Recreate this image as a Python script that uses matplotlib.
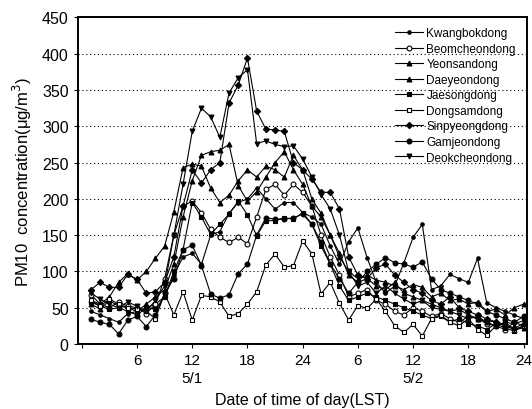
import numpy as np
import matplotlib
matplotlib.use("Agg")
import matplotlib.pyplot as plt

plt.rcParams['font.family'] = ['Liberation Sans', 'DejaVu Sans']

hours = np.arange(1, 49)

kwangbok = [45, 40, 35, 30, 42, 45, 50, 55, 65, 95, 120, 125,
            110, 150, 155, 180, 195, 200, 215, 200, 186, 195, 195, 181,
            175, 165, 135, 110, 141, 160, 119, 85, 70, 80, 112, 147,
            165, 75, 80, 96, 90, 85, 118, 57, 50, 45, 40, 35]
beomcheon = [68, 55, 50, 58, 52, 50, 42, 55, 90, 150, 190, 197,
             181, 158, 147, 140, 147, 138, 175, 213, 220, 205, 220, 209,
             190, 150, 120, 95, 65, 70, 75, 60, 55, 45, 40, 50,
             45, 38, 42, 35, 30, 38, 35, 28, 25, 20, 30, 25]
yeonsan = [60, 55, 65, 85, 97, 88, 100, 118, 135, 182, 243, 248,
           245, 215, 195, 205, 225, 240, 230, 245, 240, 230, 260, 240,
           200, 180, 150, 120, 100, 90, 95, 88, 85, 80, 75, 82,
           78, 65, 70, 60, 62, 55, 58, 45, 48, 40, 50, 55]
daeyeon = [55, 48, 60, 52, 50, 45, 55, 65, 75, 110, 175, 225,
           260, 265, 267, 275, 218, 197, 210, 230, 250, 265, 240, 220,
           190, 175, 150, 125, 95, 85, 90, 80, 75, 85, 70, 65,
           60, 55, 50, 45, 48, 40, 35, 30, 32, 25, 20, 22]
jaesong = [58, 52, 48, 50, 45, 40, 50, 48, 65, 100, 130, 195,
           175, 151, 165, 179, 197, 178, 149, 170, 170, 174, 172, 181,
           165, 135, 110, 80, 60, 65, 70, 65, 60, 55, 50, 45,
           40, 35, 38, 30, 35, 28, 25, 20, 28, 22, 18, 25]
dongsam = [60, 52, 62, 55, 50, 48, 45, 35, 70, 40, 72, 33,
           67, 65, 58, 38, 42, 55, 72, 109, 124, 106, 108, 142,
           124, 69, 85, 56, 33, 53, 49, 62, 45, 25, 16, 27,
           11, 35, 40, 30, 25, 35, 20, 12, 25, 30, 20, 25]
sinpyeong = [75, 85, 78, 78, 96, 89, 70, 72, 85, 120, 190, 240,
             222, 240, 250, 332, 357, 394, 321, 296, 295, 293, 250, 240,
             227, 209, 209, 186, 120, 95, 90, 105, 110, 95, 85, 75,
             70, 60, 55, 65, 50, 45, 40, 35, 30, 25, 22, 28]
gamjeon = [34, 30, 27, 14, 33, 38, 24, 40, 70, 90, 130, 136,
           108, 69, 63, 68, 97, 110, 150, 174, 172, 172, 174, 179,
           165, 140, 110, 90, 70, 85, 100, 110, 119, 112, 110, 106,
           113, 90, 75, 70, 65, 60, 55, 45, 40, 35, 30, 38]
deokcheon = [70, 62, 55, 50, 58, 52, 45, 60, 80, 150, 220, 293,
             325, 313, 285, 346, 367, 378, 276, 280, 275, 272, 273, 255,
             230, 206, 186, 150, 100, 80, 85, 70, 80, 70, 62, 55,
             60, 50, 48, 45, 40, 35, 38, 30, 25, 30, 28, 32]

names = ["Kwangbokdong", "Beomcheondong", "Yeonsandong", "Daeyeondong",
         "Jaesongdong", "Dongsamdong", "Sinpyeongdong", "Gamjeondong",
         "Deokcheondong"]
series = [kwangbok, beomcheon, yeonsan, daeyeon, jaesong, dongsam,
          sinpyeong, gamjeon, deokcheon]
markers = ["o", "o", "^", "^", "s", "s", "D", "o", "v"]
sizes = [2.5, 3.5, 3.5, 3.5, 3.2, 3.2, 3.2, 3.5, 3.5]
facecol = ["k", "white", "k", "k", "k", "white", "k", "k", "k"]

xtick_pos = [0, 6, 12, 18, 24, 30, 36, 42, 48]
xtick_lab = ["", "6", "12\n5/1", "18", "24", "6", "12\n5/2", "18", "24"]

fig = plt.figure(figsize=(5.32, 4.10), dpi=100)
ax = fig.add_axes([0.146, 0.1585, 0.845, 0.7965])

for name, vals, m, ms, fc in zip(names, series, markers, sizes, facecol):
    ax.plot(hours, vals, color="k", lw=0.8, marker=m, ms=ms,
            mfc=fc, mec="k", mew=0.8, label=name)

ax.set_xlim(-0.45, 48.4)
ax.set_ylim(0, 450)
ax.set_yticks(np.arange(0, 451, 50))
ax.set_xticks(xtick_pos)
ax.set_xticklabels(xtick_lab, fontsize=11, linespacing=1.35)
ax.tick_params(axis="y", labelsize=11.5, length=3)
ax.tick_params(axis="x", length=3)
ax.yaxis.grid(True, linestyle=(0, (1, 2.5)), color="k", lw=0.8)
for s in ax.spines.values():
    s.set_linewidth(1.4)

ax.set_xlabel("Date of time of day(LST)", fontsize=11.5, labelpad=5)
ax.set_ylabel("PM10  concentration(\u03bcg/m$^3$)", fontsize=12, labelpad=6)

ax.legend(loc="upper left", bbox_to_anchor=(0.705, 0.97), frameon=False,
          fontsize=8.5, labelspacing=0.3, handlelength=2.4,
          handletextpad=0.3, borderpad=0, borderaxespad=0)

fig.savefig("out.png", dpi=100)
